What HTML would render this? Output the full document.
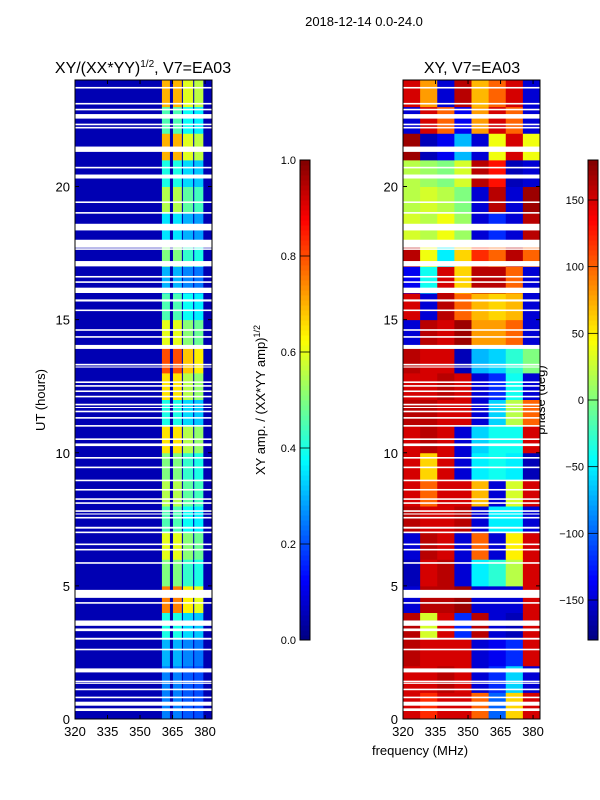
<!DOCTYPE html>
<html><head><meta charset="utf-8">
<style>
body{margin:0;background:#fff;}
svg{display:block;font-family:"Liberation Sans","DejaVu Sans",sans-serif;}
</style></head>
<body>
<svg id="fig" width="600" height="800" viewBox="0 0 600 800">
<rect width="600" height="800" fill="#fff"/>
<text x="364" y="26" font-size="13" text-anchor="middle">2018-12-14 0.0-24.0</text>
<text x="143" y="73" font-size="16" text-anchor="middle">XY/(XX*YY)<tspan font-size="10" dy="-6">1/2</tspan><tspan dy="6">, V7=EA03</tspan></text>
<text x="472" y="73" font-size="16" text-anchor="middle">XY, V7=EA03</text>
<text transform="translate(45,400) rotate(-90)" font-size="13" text-anchor="middle">UT (hours)</text>
<text transform="translate(265,400) rotate(-90)" font-size="13" text-anchor="middle">XY amp. / (XX*YY amp)<tspan font-size="9" dy="-5">1/2</tspan></text>
<text transform="translate(545,400) rotate(-90)" font-size="13" text-anchor="middle">phase (deg)</text>
<text x="420" y="755" font-size="13" text-anchor="middle">frequency (MHz)</text>
<g id="gL"></g>
<g id="gR"></g>
<g id="cb"></g>
</svg>
<script>
// ---- data ----
const ampRowLevel = [0.25,0.25,0.3,0.4,0.75,0.5,0.6,0.45,0.55,0.5,0.65,0.4,0.65,0.8,0.6,0.45,0.3,0.5,0.35,0.55,0.4,0.7,0.45,0.7];
const ampBandMul = [1.0,1.0,0.85,0.8];
const ampBands = [[360.1,363.8],[365.2,369.3],[369.8,374.5],[375,379.2]];
const ampBackground = 0.05;
const phaseRows = [
[150,120,150,150,100,-100,60,150],
[150,150,160,150,-150,-120,-60,-150],
[160,150,150,150,-150,-140,-120,150],
[160,30,150,-120,160,-150,-160,150],
[-150,160,160,170,-150,-150,-150,150],
[-160,150,160,-150,-50,-30,20,150],
[-150,160,150,-150,100,-150,50,150],
[160,150,150,160,-150,-50,-50,-150],
[150,100,150,150,70,-150,30,150],
[150,60,150,-150,-50,-40,-50,-160],
[150,160,150,-150,-60,-40,-40,150],
[160,160,150,150,-150,-60,20,100],
[150,150,160,150,-150,-120,-40,-150],
[160,150,150,-160,-70,-60,-30,0],
[-150,160,150,170,80,80,100,-150],
[150,-150,160,100,70,60,70,-150],
[-140,-40,150,60,160,160,100,-150],
[160,40,-50,60,120,100,160,100],
[30,20,40,10,-150,-120,-150,160],
[20,30,20,0,-150,160,-150,170],
[20,10,0,30,160,130,-160,-150],
[170,-160,-140,-70,-150,40,150,40],
[-150,150,100,-140,80,150,100,-150],
[150,80,-150,160,70,100,150,-150]];
const flags = [[23.68,23.74],[23.08,23.14],[22.86,22.92],[22.55,22.72],[22.3,22.36],[22.18,22.24],[21.3,21.5],[20.68,20.74],[20.3,20.45],[19.38,19.44],[18.98,19.04],[18.35,18.6],[17.7,18.0],[17.62,17.68],[17.0,17.2],[16.58,16.64],[16.38,16.44],[16.0,16.2],[15.68,15.76],[15.32,15.38],[14.58,14.64],[14.32,14.38],[13.9,14.05],[13.28,13.34],[13.2,13.24],[12.62,12.68],[12.48,12.54],[12.28,12.34],[12.08,12.14],[11.78,11.84],[11.68,11.72],[11.52,11.58],[11.28,11.34],[10.98,11.04],[10.48,10.54],[10.25,10.35],[9.78,9.84],[9.42,9.48],[8.93,8.99],[8.58,8.64],[8.23,8.29],[8.08,8.14],[7.78,7.84],[7.68,7.72],[7.53,7.59],[7.15,7.22],[6.98,7.04],[6.53,6.59],[6.33,6.39],[5.83,5.89],[4.55,4.85],[4.33,4.39],[3.5,3.7],[3.3,3.4],[2.98,3.05],[2.58,2.64],[1.75,1.9],[1.38,1.44],[1.32,1.36],[1.08,1.14],[0.78,0.84],[0.5,0.65],[0.3,0.4]];
const xTicks = [320,335,350,365,380];
const yTicks = [0,5,10,15,20];
const ampCbTicks = [0.0,0.2,0.4,0.6,0.8,1.0];
const phaseCbTicks = [-150,-100,-50,0,50,100,150];

// ---- helpers ----
const NS="http://www.w3.org/2000/svg";
function jet(v){v=Math.max(0,Math.min(1,v));
 const f=x=>Math.round(255*Math.max(0,Math.min(1,x)));
 return `rgb(${f(1.5-Math.abs(4*v-3))},${f(1.5-Math.abs(4*v-2))},${f(1.5-Math.abs(4*v-1))})`;}
function mk(tag,attrs,parent){const e=document.createElementNS(NS,tag);for(const k in attrs)e.setAttribute(k,attrs[k]);parent.appendChild(e);return e;}
const Y0=719,Y1=80;const yS=h=>Y0-(h/24)*(Y0-Y1);
const F0=320,F1=383.2;
function xS(left){return f=>left+(f-F0)/(F1-F0)*137;}

function panel(g,left,fillFn){
 const x=xS(left);
 fillFn(g,x);
 flags.forEach(fl=>{
  const r=mk('rect',{x:left,y:yS(fl[1]),width:137,height:yS(fl[0])-yS(fl[1]),fill:'#fff'},g);
  
  
 });
 const fr=mk('rect',{x:left,y:Y1,width:137,height:Y0-Y1,fill:'none',stroke:'#000','stroke-width':1},g);
 
 
 xTicks.forEach(t=>{
  mk('line',{x1:x(t),x2:x(t),y1:Y0,y2:Y0-4,stroke:'#000'},g);
  mk('line',{x1:x(t),x2:x(t),y1:Y1,y2:Y1+4,stroke:'#000'},g);
  const tx=mk('text',{x:x(t),y:Y0+17,'font-size':13,'text-anchor':'middle'},g);tx.textContent=t;
  
  
 });
 yTicks.forEach(t=>{
  mk('line',{x1:left,x2:left+4,y1:yS(t),y2:yS(t),stroke:'#000'},g);
  mk('line',{x1:left+137,x2:left+133,y1:yS(t),y2:yS(t),stroke:'#000'},g);
  const tx=mk('text',{x:left-5,y:yS(t)+5,'font-size':13,'text-anchor':'end'},g);tx.textContent=t;
  
  
 });
}

panel(document.getElementById('gL'),75,(g,x)=>{
 const bg=mk('rect',{x:75,y:Y1,width:137,height:Y0-Y1,fill:jet(ampBackground)},g);
 
 
 ampRowLevel.forEach((lv,i)=>{
  ampBands.forEach((b,j)=>{
   const r=mk('rect',{x:x(b[0]),y:yS(i+1),width:x(b[1])-x(b[0]),height:yS(i)-yS(i+1)+0.5,fill:jet(lv*ampBandMul[j])},g);
   
   
  });
 });
});

panel(document.getElementById('gR'),403,(g,x)=>{
 const n=phaseRows[0].length;const w=(F1-F0)/n;
 phaseRows.forEach((row,i)=>{
  row.forEach((p,j)=>{
   const r=mk('rect',{x:x(F0+j*w),y:yS(i+1),width:x(F0+(j+1)*w)-x(F0+j*w)+0.5,height:yS(i)-yS(i+1)+0.5,fill:jet((p+180)/360)},g);
   
   
  });
 });
});

// colorbars
function colorbar(left,ticks,vmin,vmax,name){
 const g=document.getElementById('cb');const top=160,bot=640;
 for(let k=0;k<96;k++){
  const r=mk('rect',{x:left,y:bot-(k+1)*5,width:10,height:5.5,fill:jet((k+0.5)/96)},g);
  
  
 }
 const fr=mk('rect',{x:left,y:top,width:10,height:bot-top,fill:'none',stroke:'#000'},g);
 
 
 ticks.forEach(t=>{
  const y=bot-(t-vmin)/(vmax-vmin)*(bot-top);
  mk('line',{x1:left,x2:left+10,y1:y,y2:y,stroke:'#000','stroke-width':0.8},g);
  const tx=mk('text',{x:left-4,y:y+4,'font-size':11,'text-anchor':'end'},g);
  tx.textContent=(name==='amp-colorbar')?t.toFixed(1):(t<0?'\u2212'+(-t):t);
  
  
 });
}
colorbar(300,ampCbTicks,0,1,'amp-colorbar');
colorbar(588,phaseCbTicks,-180,180,'phase-colorbar');
</script>
</body></html>
